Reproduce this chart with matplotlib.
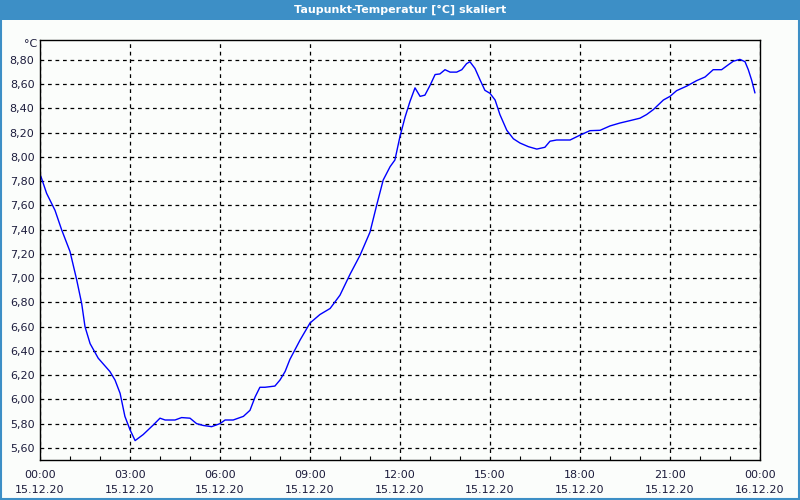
import matplotlib
matplotlib.use("Agg")
import matplotlib.pyplot as plt
from matplotlib.patches import Rectangle

# hours since 15.12.20 00:00
hours = [0.03, 0.22, 0.5, 0.72, 1.0, 1.22, 1.39, 1.5, 1.67, 1.94, 2.33, 2.5, 2.67, 2.83, 3.0,
         3.17, 3.44, 3.78, 4.0, 4.17, 4.5, 4.72, 5.0, 5.22, 5.44, 5.72, 6.0, 6.17, 6.44, 6.78,
         7.0, 7.17, 7.33, 7.5, 7.83, 8.0, 8.17, 8.33, 8.67, 9.0, 9.33, 9.67, 10.0, 10.33, 10.67,
         11.0, 11.22, 11.44, 11.67, 11.83, 12.0, 12.17, 12.33, 12.5, 12.67, 12.83, 13.0, 13.17,
         13.33, 13.5, 13.67, 13.89, 14.06, 14.22, 14.33, 14.5, 14.67, 14.83, 15.0, 15.17, 15.33,
         15.56, 15.78, 16.0, 16.28, 16.56, 16.83, 17.0, 17.22, 17.39, 17.67, 18.0, 18.33, 18.67,
         19.0, 19.33, 19.67, 20.0, 20.22, 20.44, 20.78, 21.0, 21.22, 21.56, 21.89, 22.17, 22.44,
         22.72, 22.94, 23.11, 23.33, 23.5, 23.61, 23.72, 23.83]
dewpoint = [7.84, 7.70, 7.56, 7.40, 7.22, 6.99, 6.79, 6.60, 6.46, 6.34, 6.23, 6.16, 6.05, 5.86, 5.75,
            5.66, 5.71, 5.79, 5.845, 5.83, 5.83, 5.85, 5.845, 5.80, 5.785, 5.775, 5.80, 5.83, 5.83, 5.86,
            5.91, 6.02, 6.10, 6.10, 6.11, 6.16, 6.23, 6.33, 6.49, 6.63, 6.70, 6.75, 6.86, 7.03, 7.19,
            7.38, 7.60, 7.81, 7.92, 7.975, 8.17, 8.33, 8.456, 8.57, 8.50, 8.51, 8.59, 8.68,
            8.685, 8.72, 8.70, 8.70, 8.72, 8.77, 8.786, 8.73, 8.635, 8.55, 8.525, 8.47, 8.35,
            8.22, 8.15, 8.115, 8.085, 8.065, 8.08, 8.13, 8.14, 8.14, 8.14, 8.18, 8.217, 8.22,
            8.256, 8.28, 8.30, 8.32, 8.35, 8.39, 8.47, 8.50, 8.547, 8.585, 8.63, 8.66, 8.72,
            8.72, 8.76, 8.79, 8.805, 8.786, 8.72, 8.635, 8.53]

tick_hours = [0, 3, 6, 9, 12, 15, 18, 21, 24]
tick_times = ["00:00", "03:00", "06:00", "09:00", "12:00", "15:00", "18:00", "21:00", "00:00"]
tick_dates = ["15.12.20"] * 8 + ["16.12.20"]
y_ticks = [5.6, 5.8, 6.0, 6.2, 6.4, 6.6, 6.8, 7.0, 7.2, 7.4, 7.6, 7.8, 8.0, 8.2, 8.4, 8.6, 8.8]

title = "Taupunkt-Temperatur [°C] skaliert"
text_color = "#1c1c3c"

fig = plt.figure(figsize=(8, 5), dpi=100, facecolor="#fbfdfb")
ax = fig.add_axes([40/800, 1 - 460/500, 720/800, 420/500])
ax.set_facecolor("#fbfdfb")

ax.plot(hours, dewpoint, color="#0000ff", linewidth=1.0)

ax.set_xlim(0, 24)
ax.set_ylim(5.50, 8.965)
ax.set_xticks(tick_hours)
ax.set_xticklabels([f"{t}\n{d}" for t, d in zip(tick_times, tick_dates)],
                   fontsize=8, color=text_color, linespacing=1.65)
ax.set_xticks(range(0, 25), minor=True)
ax.set_yticks(y_ticks)
ax.set_yticklabels([f"{v:.2f}".replace(".", ",") for v in y_ticks],
                   fontsize=8, color=text_color)
ax.tick_params(axis="x", which="major", length=0, pad=7)
ax.tick_params(axis="x", which="minor", direction="in", length=3, width=0.8)
ax.tick_params(axis="y", length=0, pad=4)
ax.grid(True, which="major", color="black", linestyle=(0, (3, 3)), linewidth=0.9)
for s in ax.spines.values():
    s.set_color("black")
    s.set_linewidth(1.0)

ax.text(-0.004, 0.990, "°C", transform=ax.transAxes, ha="right", va="center",
        fontsize=8, color=text_color)

# title bar
fig.patches.append(Rectangle((0, 1 - 20/500), 1, 20/500, transform=fig.transFigure,
                             facecolor="#3d8fc6", edgecolor="none", zorder=0))
fig.text(0.5, 1 - 10/500, title, ha="center", va="center", color="white",
         fontsize=8, fontweight="bold")
# outer border
fig.patches.append(Rectangle((0.0008, 0.0012), 0.9984, 0.9976, transform=fig.transFigure,
                             facecolor="none", edgecolor="#3d8fc6", linewidth=1.5, zorder=5))

fig.savefig("out.png", dpi=100, facecolor=fig.get_facecolor())
